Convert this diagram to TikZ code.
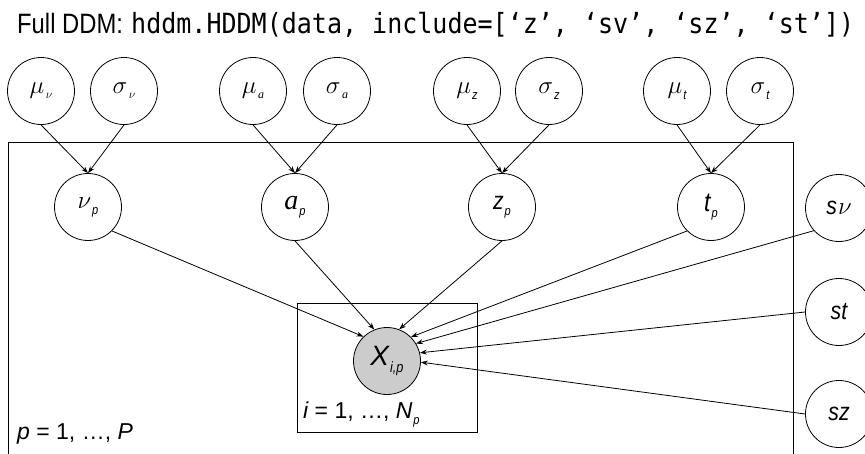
\documentclass[tikz,border=0pt]{standalone}
\usepackage{fontspec}
\setmainfont{Liberation Serif}
\newfontfamily\cs[FakeStretch=0.85]{Liberation Sans}
\newfontfamily\ls{Liberation Sans}
\newfontfamily\monof[FakeStretch=0.9]{DejaVu Sans Mono}
\usetikzlibrary{arrows.meta}
\newcommand{\sub}[1]{\kern1.5pt\raisebox{-5pt}{\fontsize{12}{12}\selectfont #1}}
\newcommand{\subsans}[1]{\kern1pt\raisebox{-6pt}{\fontsize{13}{13}\selectfont\cs\itshape #1}}
\tikzset{
  var/.style={circle,draw,line width=0.8pt,minimum size=67pt,inner sep=0pt},
  obs/.style={var,fill=black!20},
  arr/.style={line width=0.8pt,-{Stealth[length=7pt,width=5pt]}},
  plate/.style={draw,line width=0.8pt},
  toprow/.style={font=\fontsize{26}{26}\selectfont\itshape},
  midrow/.style={font=\fontsize{28}{28}\selectfont\itshape},
  sanslab/.style={font=\fontsize{25}{25}\selectfont\cs\itshape},
  lbl/.style={font=\fontsize{23}{23}\selectfont\ls,inner sep=0pt}
}
\begin{document}
\begin{tikzpicture}[x=1pt,y=-1pt]
\useasboundingbox (0,0) rectangle (865,453);
\clip (0,0) rectangle (865,453);
% title
\node[anchor=base west,inner sep=0pt,font=\fontsize{28}{28}\selectfont\cs] (t1) at (17,33) {Full DDM:};
\node[anchor=base west,inner sep=0pt,font=\fontsize{27.8}{28}\selectfont\monof] (t2) at (131,33) {hddm.HDDM(data, include=[‘z’, ‘sv’, ‘sz’, ‘st’])};
% plates
\draw[plate] (8,500) -- (8,142) -- (793,142) -- (793,500);
\node[plate,minimum width=180pt,minimum height=129pt,anchor=north west,inner sep=0pt] (inner) at (297,303) {};
% top row
\node[var,toprow] (mv) at (41,91) {$\mu$\sub{$\nu$}};
\node[var,toprow] (sv) at (124,91) {$\sigma$\sub{$\nu$}};
\node[var,toprow] (ma) at (253,91) {$\mu$\sub{a}};
\node[var,toprow] (sa) at (337,91) {$\sigma$\sub{a}};
\node[var,toprow] (mz) at (467,91) {$\mu$\subsans{z}};
\node[var,toprow] (sz) at (549,91) {$\sigma$\subsans{z}};
\node[var,toprow] (mt) at (677,91) {$\mu$\subsans{t}};
\node[var,toprow] (st) at (760,91) {$\sigma$\subsans{t}};
% middle row
\node[var,midrow,font=\fontsize{30}{30}\selectfont\itshape] (vp) at (88,207) {$\nu$\subsans{p}};
\node[var,midrow] (ap) at (295,207) {a\subsans{p}};
\node[var,sanslab] (zp) at (502,207) {z\subsans{p}};
\node[var,sanslab,font=\fontsize{27}{27}\selectfont\cs\itshape] (tp) at (711,207) {t\subsans{p}};
% right column
\node[var,sanslab] (svv) at (839,208) {s\kern1pt$\nu$};
\node[var,sanslab] (stt) at (839,312) {st};
\node[var,sanslab] (szz) at (839,414) {sz};
% observed
\node[obs,font=\fontsize{28}{28}\selectfont\ls\itshape] (X) at (387,361) {X\kern1pt\raisebox{-7pt}{\fontsize{15}{15}\selectfont\cs i,p}};
% plate labels
\node[lbl,anchor=base west] (lp) at (17,439) {\itshape p\upshape\ =\ 1, …, \itshape P};
\node[lbl,anchor=base west] (li) at (303,418) {\itshape i\upshape\ =\ 1, …, \itshape N\subsans{p}};
% edges top -> middle
\draw[arr] (mv.south) -- (vp.north);
\draw[arr] (sv.south) -- (vp.north);
\draw[arr] (ma.south) -- (ap.north);
\draw[arr] (sa.south) -- (ap.north);
\draw[arr] (mz.south) -- (zp.north);
\draw[arr] (sz.south) -- (zp.north);
\draw[arr] (mt.south) -- (tp.north);
\draw[arr] (st.south) -- (tp.north);
% edges to X
\draw[arr] (vp.-45) -- (X.134);
\draw[arr] (ap.south) -- (X.112);
\draw[arr] (zp.south) -- (X.69);
\draw[arr] (tp.225) -- (X.45);
\draw[arr] (svv.222) -- (X.31);
\draw[arr] (stt.west) -- (X.14);
\draw[arr] (szz.west) -- (X.-2);
\end{tikzpicture}
\end{document}
